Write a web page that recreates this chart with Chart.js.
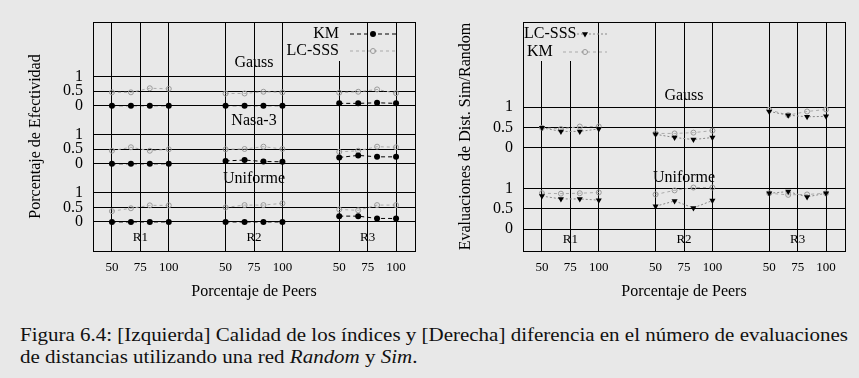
<!DOCTYPE html>
<html>
<head>
<meta charset="utf-8">
<script src="https://cdn.jsdelivr.net/npm/chart.js@4.4.0/dist/chart.umd.min.js"></script>
<style>
  html, body { margin: 0; padding: 0; background: #e8e8e8; }
  #stage { position: relative; width: 859px; height: 378px; background: #e8e8e8; overflow: hidden; }
  canvas { position: absolute; top: 0; }
  #c1 { left: 0; }
  #c2 { left: 430px; }
  .cap { position: absolute; left: 20px; font-family: 'Liberation Serif', 'DejaVu Serif', serif; font-size: 18px;
         line-height: 22px; color: #111; white-space: nowrap; transform-origin: 0 0; }
</style>
</head>
<body>
<div id="stage">
  <canvas id="c1" width="430" height="310"></canvas>
  <canvas id="c2" width="429" height="310"></canvas>
  <div class="cap" id="cap1" style="top:324px">Figura 6.4: [Izquierda] Calidad de los índices y [Derecha] diferencia en el número de evaluaciones</div>
  <div class="cap" id="cap2" style="top:346px">de distancias utilizando una red <i>Random</i> y <i>Sim</i>.</div>
</div>
<script>
// ---------------- DATA ----------------
const peers = [50, 66.7, 83.3, 100];          // Porcentaje de Peers (4 points per group)
const groups = ['R1', 'R2', 'R3'];
const xTickValues = [50, 75, 100];
const yTickValues = [0, 0.5, 1];

// Left: Porcentaje de Efectividad (R1 x4, R2 x4, R3 x4)
const kmGaussL   = [0, 0, 0, 0,          0, 0, 0, 0,             0.08, 0.08, 0.10, 0.08];
const lcGaussL   = [0.46, 0.46, 0.60, 0.58, 0.42, 0.42, 0.48, 0.46, 0.45, 0.48, 0.56, 0.43];
const kmNasaL    = [0, 0, 0, 0,          0.10, 0.13, 0.08, 0.07, 0.22, 0.29, 0.24, 0.24];
const lcNasaL    = [0.45, 0.57, 0.45, 0.50, 0.50, 0.51, 0.59, 0.51, 0.41, 0.45, 0.59, 0.57];
const kmUnifL    = [0, 0, 0, 0,          0, 0, 0, 0,             0.20, 0.20, 0.12, 0.12];
const lcUnifL    = [0.37, 0.47, 0.57, 0.57, 0.50, 0.58, 0.58, 0.64, 0.43, 0.40, 0.58, 0.58];

// Right: Evaluaciones de Dist. Sim/Random
const lcGaussR   = [0.49, 0.40, 0.40, 0.46, 0.33, 0.25, 0.20, 0.25, 0.89, 0.80, 0.76, 0.77];
const kmGaussR   = [0.49, 0.46, 0.52, 0.52, 0.35, 0.35, 0.37, 0.42, 0.93, 0.80, 0.89, 0.94];
const lcUnifR    = [0.81, 0.74, 0.74, 0.71, 0.56, 0.69, 0.52, 0.70, 0.88, 0.92, 0.79, 0.88];
const kmUnifR    = [0.88, 0.87, 0.88, 0.90, 0.85, 0.95, 1.02, 1.02, 0.88, 0.84, 0.85, 0.88];

// ---------------- LAYOUT HELPERS ----------------
const SERIF = "'Liberation Serif', 'DejaVu Serif', serif";
const GROUP_STEP = 100, PANEL_STEP = 2;

function pts(vals, panel) {
  const out = [];
  groups.forEach((g, gi) => {
    peers.forEach((p, pi) => out.push({ x: p + gi * GROUP_STEP, y: vals[gi * peers.length + pi] + panel * PANEL_STEP }));
    out.push({ x: gi * GROUP_STEP + 125, y: null });
  });
  return out;
}
const allXTicks = groups.flatMap((g, gi) => xTickValues.map(v => v + gi * GROUP_STEP));
function allYTicks(nPanels) {
  const t = [];
  for (let k = 0; k < nPanels; k++) yTickValues.forEach(v => t.push(v + k * PANEL_STEP));
  return t;
}

const styleKMleft = { borderColor: '#000', borderWidth: 1, borderDash: [4, 3], pointStyle: 'circle', pointRadius: 3,
  pointBackgroundColor: '#000', pointBorderColor: '#000', pointBorderWidth: 0 };
const styleGrayOpen = { borderColor: '#aaa', borderWidth: 1, borderDash: [3, 3], pointStyle: 'circle', pointRadius: 2.5,
  pointBackgroundColor: 'rgba(0,0,0,0)', pointBorderColor: '#999', pointBorderWidth: 1 };
const styleTriR = { borderColor: '#888', borderWidth: 1, borderDash: [2, 2], pointStyle: 'triangle', pointRotation: 180,
  pointRadius: 3.5, pointBackgroundColor: '#000', pointBorderColor: '#000', pointBorderWidth: 0 };

function ds(label, vals, panel, style) {
  return Object.assign({ label, data: pts(vals, panel), spanGaps: false, fill: false, tension: 0 }, style);
}

// draws frame, key and in-plot labels
const extrasPlugin = {
  id: 'extras',
  beforeDatasetsDraw(chart) {
    const { ctx, chartArea: a } = chart;
    const o = chart.options.plugins.extras;
    ctx.save();
    ctx.fillStyle = '#e8e8e8';
    ctx.fillRect(a.left + o.keyBg[0], a.top + 1, o.keyBg[1] - o.keyBg[0], o.keyBg[2]);
    ctx.strokeStyle = '#000';
    ctx.lineWidth = 1;
    ctx.strokeRect(Math.round(a.left) + 0.5, Math.round(a.top) + 0.5, Math.round(a.right - a.left), Math.round(a.bottom - a.top));
    const xs = chart.scales.x, ys = chart.scales.y;
    ctx.fillStyle = '#000';
    ctx.textAlign = 'center';
    ctx.textBaseline = 'middle';
    ctx.font = '16px ' + SERIF;
    o.panelLabels.forEach((t, k) => ctx.fillText(t, xs.getPixelForValue(175), ys.getPixelForValue(k * PANEL_STEP + o.panelLabelY)));
    ctx.font = '13px ' + SERIF;
    groups.forEach((g, gi) => ctx.fillText(g, xs.getPixelForValue(75 + gi * GROUP_STEP), ys.getPixelForValue(o.groupLabelY)));
    ctx.restore();
  },
  afterDatasetsDraw(chart) {
    const { ctx, chartArea: a } = chart;
    const o = chart.options.plugins.extras;
    ctx.save();
    o.key.forEach((k, i) => {
      const y = a.top + o.keyRows[i];
      ctx.font = '16px ' + SERIF;
      ctx.fillStyle = '#000';
      ctx.textBaseline = 'middle';
      ctx.textAlign = o.keyAlign;
      ctx.fillText(k.label, a.left + o.keyTextX[i], y);
      const st = k.style;
      ctx.strokeStyle = st.borderColor;
      ctx.lineWidth = st.borderWidth;
      ctx.setLineDash(st.borderDash);
      ctx.beginPath();
      ctx.moveTo(a.left + o.keySample[0] + (o.keySampleStart ? o.keySampleStart[i] : 0), y);
      ctx.lineTo(a.left + o.keySample[1], y);
      ctx.stroke();
      ctx.setLineDash([]);
      ctx.fillStyle = st.pointBackgroundColor;
      ctx.strokeStyle = st.pointBorderColor;
      ctx.lineWidth = st.pointBorderWidth;
      ctx.beginPath();
      const cx = a.left + o.keySample[2], r = st.pointRadius;
      if (st.pointStyle === 'circle') {
        ctx.arc(cx, y, r, 0, Math.PI * 2);
      } else {
        ctx.moveTo(cx - r * 0.866, y - r * 0.5);
        ctx.lineTo(cx + r * 0.866, y - r * 0.5);
        ctx.lineTo(cx, y + r);
        ctx.closePath();
      }
      ctx.fill();
      if (st.pointBorderWidth) ctx.stroke();
    });
    ctx.restore();
  }
};

function makeChart(id, datasets, cfg) {
  return new Chart(document.getElementById(id), {
    type: 'line',
    data: { datasets },
    options: {
      responsive: false, animation: false, devicePixelRatio: 1,
      layout: { padding: { top: 22, right: cfg.padRight, left: 0, bottom: 0 } },
      plugins: { legend: { display: false }, tooltip: { enabled: false }, extras: cfg.extras },
      scales: {
        x: {
          type: 'linear', min: 33.33, max: 316.67,
          afterBuildTicks: s => { s.ticks = allXTicks.map(v => ({ value: v })); },
          afterFit: s => { s.height = 59; },
          ticks: { callback: v => String(((v - 50) % GROUP_STEP) + 50), font: { family: SERIF, size: 13 }, color: '#000',
                   padding: 9, maxRotation: 0, autoSkip: false },
          grid: { color: '#000', lineWidth: 1, drawTicks: false },
          border: { color: '#000', width: 1 },
          title: { display: true, text: 'Porcentaje de Peers', font: { family: SERIF, size: 16 }, color: '#000', padding: { top: 0, bottom: 9 } }
        },
        y: {
          type: 'linear', min: cfg.ymin, max: cfg.ymax,
          afterBuildTicks: s => { s.ticks = allYTicks(cfg.panels).map(v => ({ value: v })); },
          afterFit: s => { s.width = 93; },
          ticks: { callback: v => String(Math.round((v % PANEL_STEP) * 10) / 10), font: { family: SERIF, size: 16 }, color: '#000',
                   padding: 10, autoSkip: false },
          grid: { color: '#000', lineWidth: 1, drawTicks: false },
          border: { color: '#000', width: 1 },
          title: { display: true, text: cfg.yTitle, font: { family: SERIF, size: 16 }, color: '#000', padding: { top: 26, bottom: 0 } }
        }
      }
    },
    plugins: [extrasPlugin]
  });
}

// Left chart: panels 0 = Uniforme, 1 = Nasa-3, 2 = Gauss
makeChart('c1', [
  ds('KM', kmGaussL, 2, styleKMleft), ds('KM', kmNasaL, 1, styleKMleft), ds('KM', kmUnifL, 0, styleKMleft),
  ds('LC-SSS', lcGaussL, 2, styleGrayOpen), ds('LC-SSS', lcNasaL, 1, styleGrayOpen), ds('LC-SSS', lcUnifL, 0, styleGrayOpen)
], {
  padRight: 15, ymin: -1, ymax: 6.88, panels: 3, yTitle: 'Porcentaje de Efectividad',
  extras: {
    panelLabels: ['Uniforme', 'Nasa-3', 'Gauss'], panelLabelY: 1.47, groupLabelY: -0.55,
    keyBg: [192, 248, 38], keyAlign: 'right', keyTextX: [246, 246], keyRows: [12, 29], keySample: [257, 303, 280],
    key: [{ label: 'KM', style: styleKMleft }, { label: 'LC-SSS', style: styleGrayOpen }]
  }
});

// Right chart: panels 0 = Uniforme, 1 = Gauss
makeChart('c2', [
  ds('LC-SSS', lcGaussR, 1, styleTriR), ds('LC-SSS', lcUnifR, 0, styleTriR),
  ds('KM', kmGaussR, 1, styleGrayOpen), ds('KM', kmUnifR, 0, styleGrayOpen)
], {
  padRight: 14, ymin: -0.54, ymax: 5.09, panels: 2, yTitle: 'Evaluaciones de Dist. Sim/Random',
  extras: {
    panelLabels: ['Uniforme', 'Gauss'], panelLabelY: 1.27, groupLabelY: -0.27,
    keyBg: [0, 54, 38], keyAlign: 'left', keyTextX: [1, 4], keyRows: [12, 30], keySample: [40, 84, 62], keySampleStart: [14, 0],
    key: [{ label: 'LC-SSS', style: styleTriR }, { label: 'KM', style: styleGrayOpen }]
  }
});

// fit caption line width to the figure
(function () {
  const c1 = document.getElementById('cap1');
  const w = c1.getBoundingClientRect().width;
  const s = 828 / w;
  c1.style.transform = 'scaleX(' + s + ')';
  document.getElementById('cap2').style.transform = 'scaleX(' + s + ')';
})();
</script>
</body>
</html>
